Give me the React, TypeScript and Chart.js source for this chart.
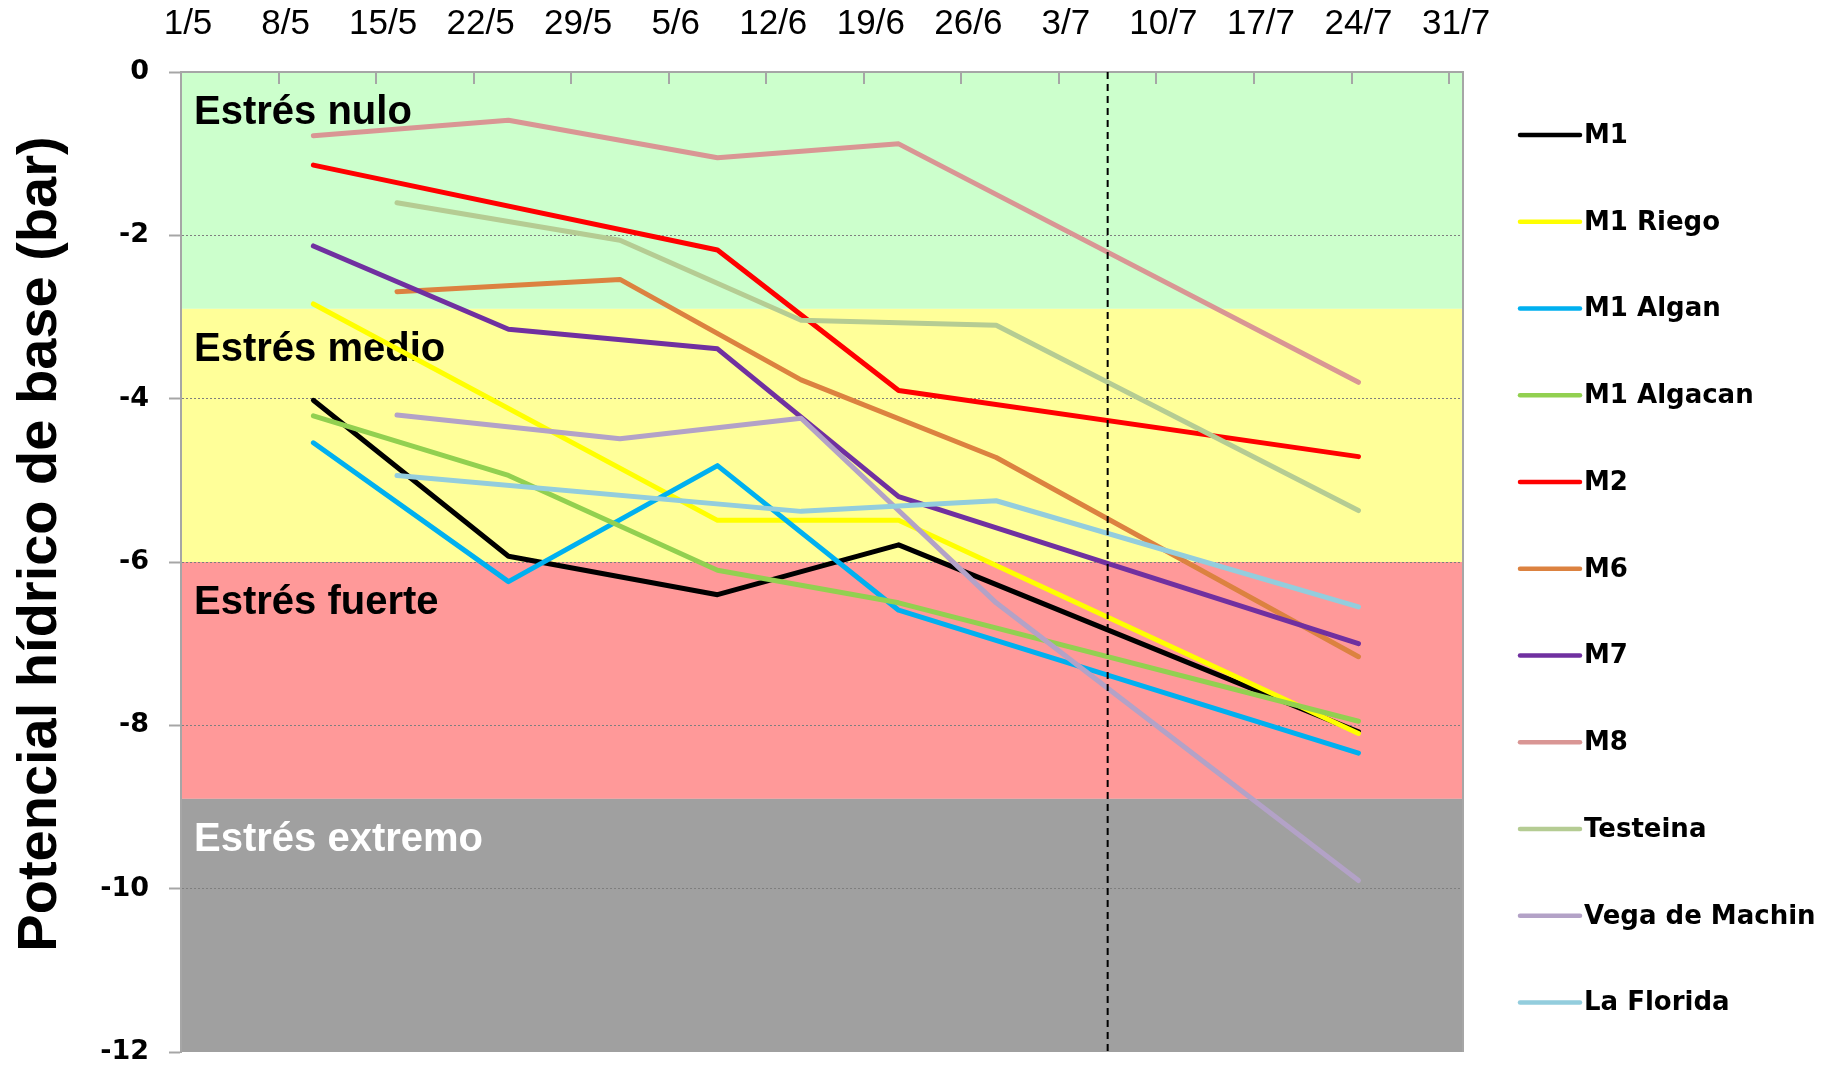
import React, { useEffect, useRef } from 'react';
import { Chart, registerables } from 'chart.js';

Chart.register(...registerables);

// ---------- data ----------
const tickLabels = ['1/5', '8/5', '15/5', '22/5', '29/5', '5/6', '12/6', '19/6', '26/6', '3/7', '10/7', '17/7', '24/7', '31/7'];
const axisStart = '1/5';
const axisEnd = '1/8';
const markerDate = '6/7';

const yTickValues = [0, -2, -4, -6, -8, -10, -12];
const yTitle = 'Potencial hídrico de base (bar)';

const datesA = ['10/5', '24/5', '8/6', '21/6', '24/7'];
const datesB = ['16/5', '1/6', '14/6', '28/6', '24/7'];

const seriesNames = ['M1', 'M1 Riego', 'M1 Algan', 'M1 Algacan', 'M2', 'M6', 'M7', 'M8', 'Testeina', 'Vega de Machin', 'La Florida'];

const m1 = [-4.02, -5.93, -6.4, -5.79, -8.08];
const m1Riego = [-2.84, null, -5.49, -5.49, -8.1];
const m1Algan = [-4.54, -6.24, -4.82, -6.59, -8.34];
const m1Algacan = [-4.21, -4.94, -6.1, -6.5, -7.95];
const m2 = [-1.14, null, -2.18, -3.9, -4.71];
const m6 = [-2.69, -2.54, -3.77, -4.72, -7.16];
const m7 = [-2.13, -3.15, -3.39, -5.2, -7.0];
const m8 = [-0.78, -0.59, -1.05, -0.88, -3.8];
const testeina = [-1.6, -2.06, -3.04, -3.1, -5.37];
const vegaDeMachin = [-4.2, -4.49, -4.24, -6.5, -9.9];
const laFlorida = [-4.94, null, -5.38, -5.25, -6.55];

const seriesValues = [m1, m1Riego, m1Algan, m1Algacan, m2, m6, m7, m8, testeina, vegaDeMachin, laFlorida];
const seriesDates = [datesA, datesA, datesA, datesA, datesA, datesB, datesA, datesA, datesB, datesB, datesB];

const bandLabels = ['Estrés nulo', 'Estrés medio', 'Estrés fuerte', 'Estrés extremo'];
const bandUpper = [0, -2.9, -6, -8.9];
const bandLower = [-2.9, -6, -8.9, -12];

// ---------- styles ----------
const seriesColors = ['#000000', '#FFFF00', '#00B0F0', '#92D050', '#FF0000', '#DC8240', '#7030A0', '#D99694', '#B5CC93', '#B3A2C7', '#93CDDD'];
const bandColors = ['#CCFFCC', '#FFFF99', '#FF9999', '#A0A0A0'];
const bandTextColors = ['#000000', '#000000', '#000000', '#FFFFFF'];

const W = 1829;
const H = 1065;

const monthStart: Record<number, number> = { 5: 0, 6: 31, 7: 61, 8: 92 };
const dayOf = (s: string) => {
  const [d, m] = s.split('/').map(Number);
  return monthStart[m] + d - 1;
};

const bandsPlugin = {
  id: 'bands',
  beforeDraw(chart: any) {
    const { ctx, chartArea } = chart;
    const y = chart.scales.y;
    ctx.save();
    ctx.fillStyle = '#FFFFFF';
    ctx.fillRect(0, 0, chart.width, chart.height);
    bandUpper.forEach((u, i) => {
      const y0 = y.getPixelForValue(u);
      const y1 = y.getPixelForValue(bandLower[i]);
      ctx.fillStyle = bandColors[i];
      ctx.fillRect(chartArea.left, y0, chartArea.right - chartArea.left, y1 - y0);
    });
    ctx.restore();
  },
  beforeDatasetsDraw(chart: any) {
    const { ctx, chartArea } = chart;
    const y = chart.scales.y;
    ctx.save();
    ctx.font = 'bold 40px "Liberation Sans", Arial, sans-serif';
    ctx.textBaseline = 'middle';
    ctx.textAlign = 'left';
    bandLabels.forEach((t, i) => {
      ctx.fillStyle = bandTextColors[i];
      ctx.fillText(t, chartArea.left + 13, y.getPixelForValue(bandUpper[i]) + 41);
    });
    ctx.restore();
  },
  afterDatasetsDraw(chart: any) {
    const { ctx, chartArea } = chart;
    const x = chart.scales.x;
    ctx.save();
    ctx.strokeStyle = '#A6A6A6';
    ctx.lineWidth = 2;
    x.ticks.forEach((t: any) => {
      const px = Math.round(x.getPixelForValue(t.value));
      ctx.beginPath();
      ctx.moveTo(px, chartArea.top);
      ctx.lineTo(px, chartArea.top + 12);
      ctx.stroke();
    });
    ctx.beginPath();
    ctx.moveTo(chartArea.right, chartArea.top);
    ctx.lineTo(chartArea.right, chartArea.bottom);
    ctx.stroke();
    const mx = x.getPixelForValue(dayOf(markerDate) + 0.5);
    ctx.strokeStyle = '#000000';
    ctx.lineWidth = 2;
    ctx.setLineDash([7, 5]);
    ctx.beginPath();
    ctx.moveTo(mx, chartArea.top);
    ctx.lineTo(mx, chartArea.bottom);
    ctx.stroke();
    ctx.restore();
  },
  afterDraw(chart: any) {
    const { ctx, chartArea } = chart;
    ctx.save();
    // y axis title
    ctx.translate(41, (chartArea.top + chartArea.bottom) / 2 - 18);
    ctx.rotate(-Math.PI / 2);
    ctx.font = 'bold 56px "Liberation Sans", Arial, sans-serif';
    ctx.textAlign = 'center';
    ctx.textBaseline = 'middle';
    ctx.fillStyle = '#000000';
    ctx.fillText(yTitle, 0, 0);
    ctx.restore();

    ctx.save();
    ctx.font = 'bold 26px "DejaVu Sans", Verdana, sans-serif';
    ctx.textBaseline = 'middle';
    ctx.textAlign = 'left';
    chart.data.datasets.forEach((ds: any, i: number) => {
      const yy = 135 + i * 86.75;
      ctx.strokeStyle = ds.borderColor;
      ctx.lineWidth = 4.5;
      ctx.lineCap = 'round';
      ctx.beginPath();
      ctx.moveTo(chartArea.right + 57, yy);
      ctx.lineTo(chartArea.right + 117, yy);
      ctx.stroke();
      ctx.fillStyle = '#000000';
      ctx.fillText(ds.label, chartArea.right + 121, yy + 1);
    });
    ctx.restore();
  },
};

export default function App() {
  const ref = useRef<HTMLCanvasElement>(null);

  useEffect(() => {
    const canvas = ref.current;
    if (!canvas) return;
    const datasets = seriesNames.map((name, i) => ({
      label: name,
      data: seriesDates[i]
        .map((d, j) => ({ x: dayOf(d) + 0.5, y: seriesValues[i][j] }))
        .filter((p) => p.y !== null),
      borderColor: seriesColors[i],
      backgroundColor: seriesColors[i],
      borderWidth: 5,
      pointRadius: 0,
      pointHoverRadius: 0,
      tension: 0,
      fill: false,
      order: -i,
      borderJoinStyle: 'round' as const,
      borderCapStyle: 'round' as const,
    }));

    const chart = new Chart(canvas, {
      type: 'line',
      data: { datasets },
      plugins: [bandsPlugin],
      options: {
        animation: false,
        responsive: false,
        devicePixelRatio: 1,
        layout: { padding: { left: 0, top: 0, right: 366, bottom: 13 } },
        plugins: { legend: { display: false }, tooltip: { enabled: false } },
        scales: {
          x: {
            type: 'linear',
            position: 'top',
            min: dayOf(axisStart),
            max: dayOf(axisEnd),
            afterBuildTicks: (s: any) => {
              s.ticks = tickLabels.map((l) => ({ value: dayOf(l) }));
            },
            afterFit: (s: any) => {
              s.height = 72;
            },
            grid: { display: false },
            border: { display: true, color: '#A6A6A6', width: 2 },
            ticks: {
              callback: (v: any) => tickLabels.find((l) => dayOf(l) === v) ?? '',
              font: { family: '"Liberation Sans", Arial, sans-serif', size: 35 },
              color: '#000000',
              padding: 19,
              labelOffset: 7,
              maxRotation: 0,
              autoSkip: false,
            },
          },
          y: {
            type: 'linear',
            min: -12,
            max: 0,
            afterBuildTicks: (s: any) => {
              s.ticks = yTickValues.map((v) => ({ value: v }));
            },
            afterFit: (s: any) => {
              s.width = 181;
              s.paddingTop = 0;
              s.paddingBottom = 0;
            },
            grid: {
              color: (c: any) =>
                c.tick && (c.tick.value === 0 || c.tick.value === -12) ? 'rgba(0,0,0,0)' : '#7F7F7F',
              lineWidth: 1,
              drawTicks: true,
              tickLength: 12,
              tickColor: '#A6A6A6',
              tickWidth: 2,
            },
            border: { display: true, color: '#A6A6A6', width: 2, dash: [2, 2] },
            ticks: {
              callback: (v: any) => String(v),
              font: { family: '"DejaVu Sans", Verdana, sans-serif', size: 27, weight: 'bold', lineHeight: 1 },
              color: '#000000',
              padding: 20,
            },
            title: { display: false },
          },
        },
      },
    } as any);

    return () => chart.destroy();
  }, []);

  return (
    <div style={{ position: 'fixed', left: 0, top: 0, width: W, height: H, background: '#ffffff' }}>
      <canvas ref={ref} width={W} height={H} style={{ display: 'block', width: W, height: H }} />
    </div>
  );
}
